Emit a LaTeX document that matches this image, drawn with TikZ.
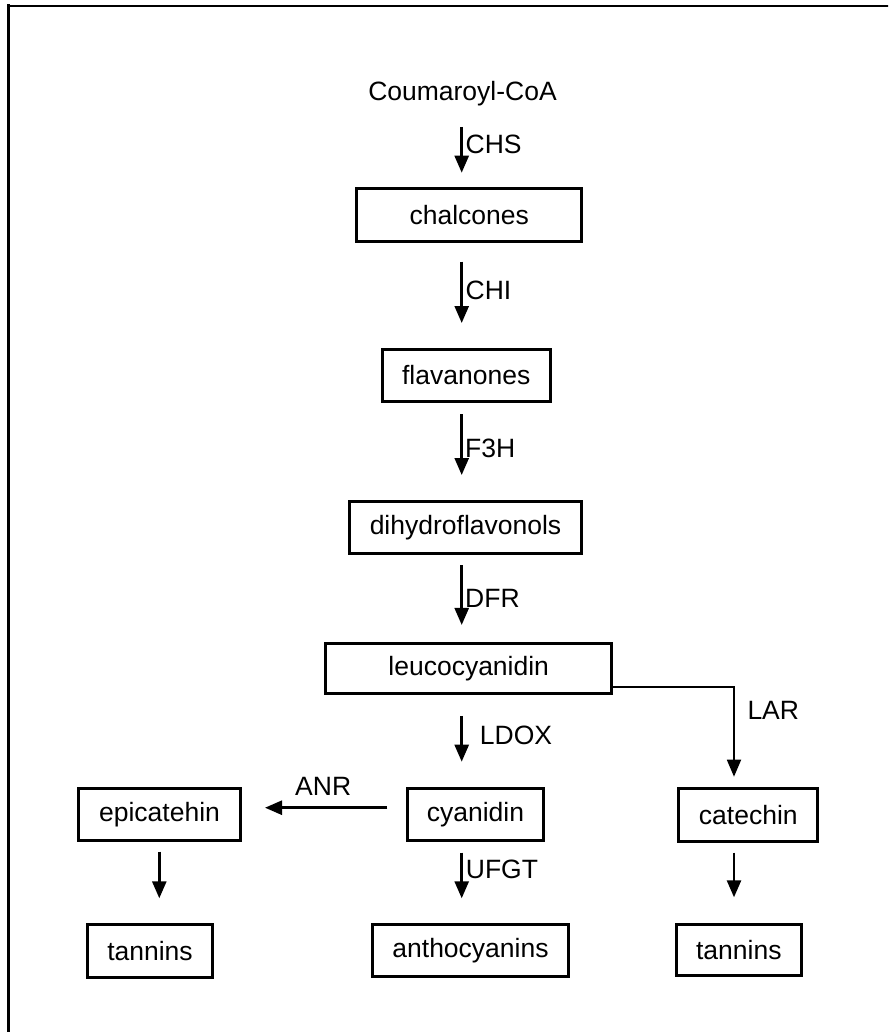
\documentclass[tikz,border=0pt]{standalone}
\usepackage{fontspec}
\setmainfont{Liberation Sans}
\usetikzlibrary{arrows.meta}
\begin{document}
\begin{tikzpicture}[x=1pt,y=-1pt,
  every node/.style={font=\fontsize{26.5}{30}\selectfont},
  box/.style={draw, line width=3pt, inner sep=0pt},
  lbl/.style={anchor=west, inner sep=0pt},
  arr/.style={line width=2.6pt, -{Triangle[length=17pt,width=14pt]}},
  thinarr/.style={line width=1.8pt, -{Triangle[length=17pt,width=14pt]}},
]
\useasboundingbox (0,0) rectangle (888,1032);
\clip (0,0) rectangle (888,1032);
% outer frame (only left and top edges fall inside the picture)
\draw[line width=3pt] (8.5,1040) -- (8.5,4.5);
\draw[line width=2.2pt] (7,6) -- (900,6);
% axis coordinates for the arrows
\coordinate (ax) at (461.7,0);
\coordinate (lx) at (734,0);
\coordinate (ex) at (159.3,0);
% nodes
\node[inner sep=0pt, text height=19pt, text depth=7pt] (coum) at (462.5,94.5) {Coumaroyl-CoA};
\node[box, minimum width=225.3pt, minimum height=53pt] (chal) at (469.2,214.7) {chalcones};
\node[box, minimum width=168pt, minimum height=51.4pt] (flav) at (466.2,375.5) {flavanones};
\node[box, minimum width=232.6pt, minimum height=52pt] (dihy) at (465.5,527.5) {dihydroflavonols};
\node[box, minimum width=286.3pt, minimum height=50.3pt] (leuco) at (468.7,668.3) {leucocyanidin};
\node[box, minimum width=136pt, minimum height=51.4pt] (cyan) at (475.5,814.5) {cyanidin};
\node[box, minimum width=161.4pt, minimum height=52pt] (epi) at (159.5,814.2) {epicatehin};
\node[box, minimum width=139pt, minimum height=53pt] (cat) at (748.3,814.7) {catechin};
\node[box, minimum width=196pt, minimum height=52.6pt] (antho) at (470.5,950.5) {anthocyanins};
\node[box, minimum width=125pt, minimum height=53pt] (tanL) at (150,951.3) {tannins};
\node[box, minimum width=124.7pt, minimum height=50.4pt] (tanR) at (738.8,950) {tannins};
% arrows
\draw[arr, shorten <=19.2pt, shorten >=14pt] (coum.south -| ax) -- (chal.north -| ax);
\draw[arr, shorten <=19pt, shorten >=25.3pt] (chal.south -| ax) -- (flav.north -| ax);
\draw[arr, shorten <=11.3pt, shorten >=25pt] (flav.south -| ax) -- (dihy.north -| ax);
\draw[arr, shorten <=10pt, shorten >=16.7pt] (dihy.south -| ax) -- (leuco.north -| ax);
\draw[arr, shorten <=21pt, shorten >=25.6pt] (leuco.south -| ax) -- (cyan.north -| ax);
\draw[arr, shorten <=11pt, shorten >=24.4pt] (cyan.south -| ax) -- (antho.north -| ax);
\draw[arr, shorten <=10pt, shorten >=25pt] (epi.south -| ex) -- (tanL.north -| ex);
\draw[arr, shorten <=10pt, shorten >=26pt] (cat.south -| lx) -- (tanR.north -| lx);
\draw[arr, shorten <=18.7pt, shorten >=23.3pt] ([yshift=6.8pt]cyan.west) -- ([yshift=6.8pt]cyan.west -| epi.east);
\draw[thinarr, shorten >=10pt] ([yshift=-19pt]leuco.east) -| (lx |- cat.north);
% labels
\node[lbl] (lchs) at (465.5,144) {CHS};
\node[lbl] (lchi) at (465.5,290.7) {CHI};
\node[lbl] (lf3h) at (465,448.3) {F3H};
\node[lbl] (ldfr) at (465,598.3) {DFR};
\node[lbl] (lldox) at (479.7,735) {LDOX};
\node[lbl] (lufgt) at (465.7,869.3) {UFGT};
\node[lbl] (lanr) at (295,786.7) {ANR};
\node[lbl] (llar) at (747.3,710) {LAR};
\end{tikzpicture}
\end{document}
